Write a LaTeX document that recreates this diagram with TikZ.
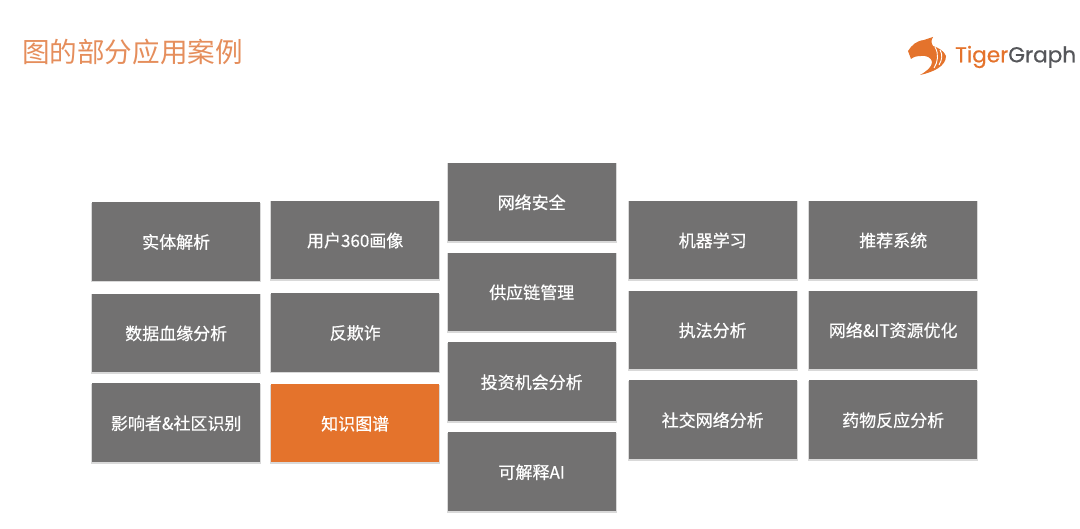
\documentclass[tikz,border=0pt]{standalone}
\usepackage{fontspec}
\usepackage{xcolor}
\usetikzlibrary{positioning,shadows}
\newfontfamily\cjk{Noto Sans CJK SC}
\newfontfamily\cjkbold[FakeBold=0.5]{Noto Sans CJK SC}
\newfontfamily\logofont[FakeBold=0.6]{Poppins}
\definecolor{tigerorange}{HTML}{E4732C}
\definecolor{titleorange}{HTML}{E58E5C}
\definecolor{boxgray}{HTML}{727171}
\definecolor{logogray}{HTML}{55565A}

\begin{document}
\begin{tikzpicture}[
  x=1pt, y=-1pt,
  font=\cjk,
  appbox/.style={fill=boxgray, text=white, align=center, anchor=north west, minimum width=168pt, minimum height=78.5pt, inner sep=2pt, text height=15.5pt, text depth=1.5pt, font=\cjkbold\fontsize{17}{20}\selectfont, drop shadow={shadow xshift=0pt, shadow yshift=-1.2pt, shadow scale=1.012, opacity=.3}},
  hotbox/.style={appbox, fill=tigerorange}
]
\useasboundingbox (0,0) rectangle (1080,529);
\node[anchor=west, inner sep=0pt, text=titleorange, font=\cjk\fontsize{27.6}{30}\selectfont] (title) at (22,52.5) {图的部分应用案例};
% logo
\fill[tigerorange] (908,51) .. controls (912,45) and (916,41) .. (924,40) -- (933,37) .. controls (931,40) and (931,43) .. (933,46) .. controls (939,48) and (944,51) .. (946,56) .. controls (946,66) and (934,72) .. (920,75) .. controls (927,71) and (932,67) .. (932,62) .. controls (932,58) and (926,55) .. (921,56) .. controls (917,56) and (913,57) .. (911,59) -- cycle;
\draw[white, line width=.9pt] (935,47) .. controls (939,54) and (938,62) .. (934,68);
\draw[white, line width=.9pt] (940,50) .. controls (943,55) and (942,60) .. (939,65);
\node[anchor=west, inner sep=0pt, font=\logofont\fontsize{21.6}{24}\selectfont] (logo) at (955,57) {\textcolor{tigerorange}{Tiger}\textcolor{logogray}{Graph}};
% column 1
\node[appbox] (entity) at (92,202) {实体解析};
\node[appbox, below=12.5pt of entity.south west, anchor=north west] (lineage) {数据血缘分析};
\node[appbox, below=11pt of lineage.south west, anchor=north west] (influencer) {影响者\&社区识别};
% column 2
\node[appbox] (customer) at (271,200.5) {用户360画像};
\node[appbox, below=13.5pt of customer.south west, anchor=north west] (fraud) {反欺诈};
\node[hotbox, below=12pt of fraud.south west, anchor=north west] (knowledge) {知识图谱};
% column 3
\node[appbox] (security) at (447.5,162.5) {网络安全};
\node[appbox, below=11pt of security.south west, anchor=north west] (supply) {供应链管理};
\node[appbox, below=11pt of supply.south west, anchor=north west] (invest) {投资机会分析};
\node[appbox, below=11pt of invest.south west, anchor=north west] (explain) {可解释AI};
% column 4
\node[appbox] (learning) at (628.5,200.5) {机器学习};
\node[appbox, below=11pt of learning.south west, anchor=north west] (enforce) {执法分析};
\node[appbox, below=11pt of enforce.south west, anchor=north west] (social) {社交网络分析};
% column 5
\node[appbox] (recommend) at (809,200.5) {推荐系统};
\node[appbox, below=11pt of recommend.south west, anchor=north west] (resource) {网络\&IT资源优化};
\node[appbox, below=11pt of resource.south west, anchor=north west] (drug) {药物反应分析};
\end{tikzpicture}
\end{document}
